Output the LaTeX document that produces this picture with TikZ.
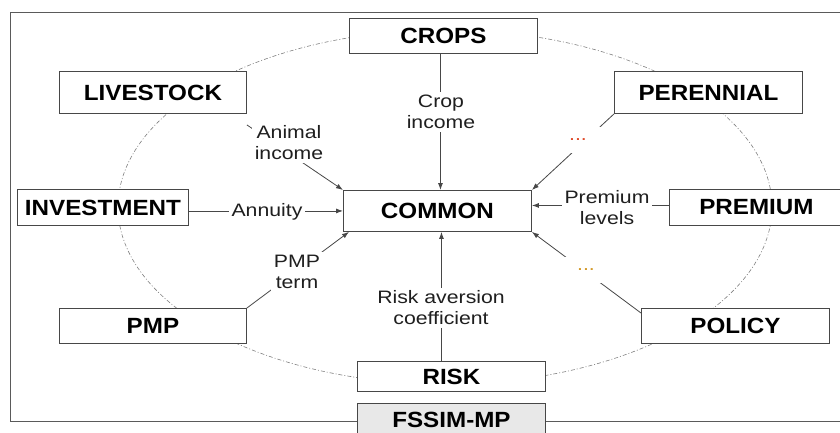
\documentclass[tikz,border=0pt]{standalone}
\usepackage{fontspec}
\setmainfont{Liberation Sans}
\newfontfamily\boxfont{Liberation Sans}[FakeStretch=1.1]
\newfontfamily\labfont{Liberation Sans}[FakeStretch=1.18]
\usetikzlibrary{arrows.meta,calc}
\definecolor{edgegray}{HTML}{474747}
\definecolor{framegray}{HTML}{5A5A5A}
\definecolor{dotred}{HTML}{E04A2A}
\definecolor{dotorange}{HTML}{D49A2A}
\definecolor{fsgray}{HTML}{E8E8E8}
\tikzset{
  modbox/.style={draw=edgegray, line width=0.9pt, fill=white, anchor=north west,
    inner sep=0pt, font=\boxfont\bfseries\fontsize{22}{24}\selectfont, text=black},
  lab/.style={fill=white, inner sep=3pt, align=center,
    font=\labfont\fontsize{18}{21}\selectfont, text=black!88},
  dotlab/.style={fill=white, inner sep=0pt, minimum width=95pt, minimum height=26pt,
    font=\labfont\fontsize{18}{21}\selectfont},
  link/.style={draw=edgegray, line width=0.8pt, -{Latex[length=7pt,width=5pt]}},
  orbit/.style={draw=gray, line width=0.6pt, dash pattern=on 4pt off 2pt on 1pt off 2pt}
}
\begin{document}
\begin{tikzpicture}[x=1pt,y=-1pt]
\path[use as bounding box, clip] (0,0) rectangle (840,432);
% outer frame
\draw[framegray, line width=0.9pt] (10,12) rectangle (860,421);
% dash-dot orbit
\draw[orbit] (445,207) ellipse [x radius=327pt, y radius=177pt];
% boxes
\node[modbox, minimum width=188pt, minimum height=35pt] (crops) at (349,18) {CROPS};
\node[modbox, minimum width=187pt, minimum height=42pt] (live) at (59,71) {LIVESTOCK};
\node[modbox, minimum width=188pt, minimum height=42pt] (per) at (614,71) {PERENNIAL};
\node[modbox, minimum width=171pt, minimum height=36pt] (inv) at (17,189) {INVESTMENT};
\node[modbox, minimum width=188pt, minimum height=41pt] (common) at (343,190) {COMMON};
\node[modbox, minimum width=174pt, minimum height=36pt] (prem) at (669,189) {PREMIUM};
\node[modbox, minimum width=187pt, minimum height=35pt] (pmp) at (59,308) {PMP};
\node[modbox, minimum width=188pt, minimum height=35pt] (pol) at (641,308) {POLICY};
\node[modbox, minimum width=188pt, minimum height=30pt] (risk) at (357,361) {RISK};
\node[modbox, fill=fsgray, minimum width=188pt, minimum height=33pt] (fssim) at (357,403) {FSSIM-MP};
% connectors
\draw[link] ([xshift=-3pt]crops.south) -- ([xshift=-3pt]crops.south |- common.north);
\draw[link] ([yshift=-11pt]live.south east) -- (common.north west);
\draw[link] (common.west -| inv.east) -- (common.west);
\draw[link] (pmp.north east) -- ([xshift=6pt]common.south west);
\draw[link] ([xshift=-10pt]risk.north) -- ([xshift=-10pt]risk.north |- common.south);
\draw[link] (per.south west) -- (common.north east);
\draw[link] ([yshift=2pt]prem.west) -- ([yshift=2pt]prem.west -| common.east);
\draw[link] ([yshift=-5pt]pol.north west) -- (common.south east);
% labels
\node[lab] (lcrop) at (441,112) {Crop\\income};
\node[lab] (lanimal) at (289,143) {Animal\\income};
\node[lab] (lannuity) at (267,212) {Annuity};
\node[lab] (lpmp) at (297,272) {PMP\\term};
\node[lab] (lrisk) at (441,308) {Risk aversion\\coefficient};
\node[lab] (lprem) at (607,208) {Premium\\levels};
\node[dotlab, text=dotred] (ldots1) at (578,140) {...};
\node[dotlab, text=dotorange] (ldots2) at (586,270) {...};
\end{tikzpicture}
\end{document}
